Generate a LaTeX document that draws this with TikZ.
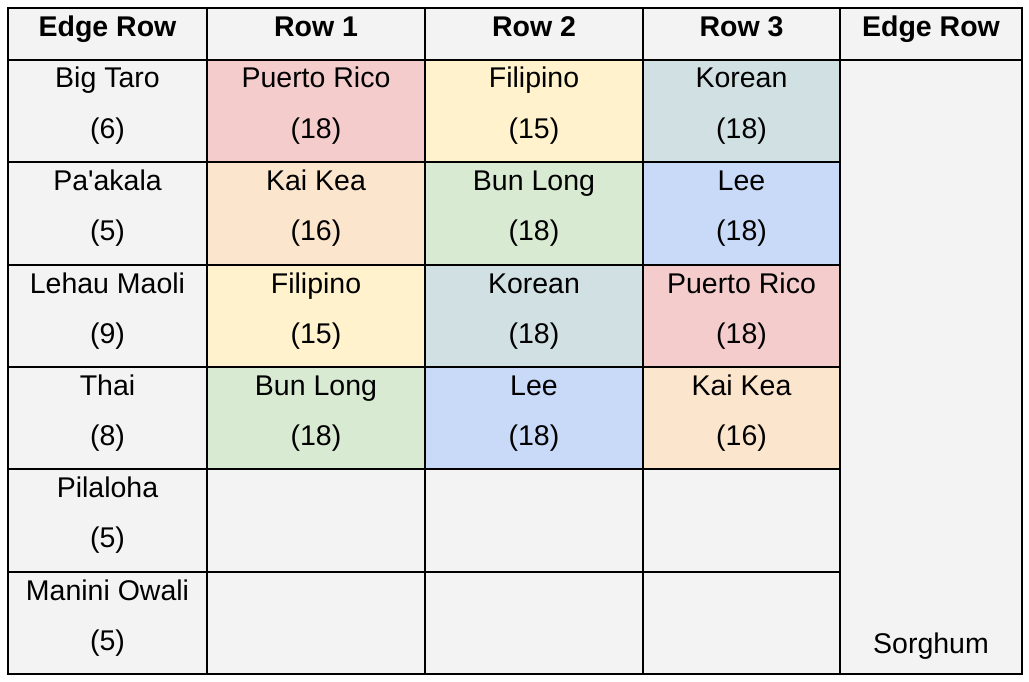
\documentclass[tikz,border=0pt]{standalone}
\usepackage{fontspec}
\newfontfamily\cellfont{Liberation Sans}
\definecolor{cellGray}{HTML}{F3F3F3}
\definecolor{cellRed}{HTML}{F4CCCC}
\definecolor{cellYellow}{HTML}{FFF2CC}
\definecolor{cellTeal}{HTML}{D0E0E3}
\definecolor{cellOrange}{HTML}{FCE5CD}
\definecolor{cellGreen}{HTML}{D9EAD3}
\definecolor{cellBlue}{HTML}{C9DAF8}
\begin{document}
\begin{tikzpicture}
[x=1pt,y=-1pt,%
  cellDecorate/.style={shape=rectangle,draw,line width=2pt,inner sep=0pt,anchor=north west},%
  textDecorate/.style={anchor=base,inner sep=0pt,font=\cellfont\fontsize{28.5}{28.5}\selectfont},%
  headDecorate/.style={textDecorate,font=\cellfont\fontsize{28.5}{28.5}\selectfont\bfseries}]
\useasboundingbox (0,0) rectangle (1029,682);
%% header cells
\foreach \name/\x/\w/\txt in {h1/7/199/Edge Row, h2/206/218/Row 1, h3/424/218/Row 2, h4/642/197/Row 3, h5/839/182/Edge Row}
{
  \node (\name) at (\x,7) [cellDecorate,fill=cellGray,minimum width=\w pt,minimum height=52pt] {};
  \node at ([yshift=-29.5pt]\name.north) [headDecorate] {\txt};
}
%% edge row on the left
\foreach \r/\top/\h/\txt/\num in {1/59/102/Big Taro/6, 2/161/103/Pa'akala/5, 3/264/102/Lehau Maoli/9, 4/366/102/Thai/8, 5/468/103/Pilaloha/5, 6/571/102/Manini Owali/5}
{
  \node (a\r) at (7,\top) [cellDecorate,fill=cellGray,minimum width=199pt,minimum height=\h pt] {};
  \node at ([yshift=-29pt]a\r.north) [textDecorate] {\txt};
  \node at ([yshift=-79.5pt]a\r.north) [textDecorate] {(\num)};
}
%% planted cells
\foreach \c/\r/\x/\w/\top/\h/\col/\txt/\num in {%
  b/1/206/218/59/102/cellRed/Puerto Rico/18, c/1/424/218/59/102/cellYellow/Filipino/15, d/1/642/197/59/102/cellTeal/Korean/18,%
  b/2/206/218/161/103/cellOrange/Kai Kea/16, c/2/424/218/161/103/cellGreen/Bun Long/18, d/2/642/197/161/103/cellBlue/Lee/18,%
  b/3/206/218/264/102/cellYellow/Filipino/15, c/3/424/218/264/102/cellTeal/Korean/18, d/3/642/197/264/102/cellRed/Puerto Rico/18,%
  b/4/206/218/366/102/cellGreen/Bun Long/18, c/4/424/218/366/102/cellBlue/Lee/18, d/4/642/197/366/102/cellOrange/Kai Kea/16}
{
  \node (\c\r) at (\x,\top) [cellDecorate,fill=\col,minimum width=\w pt,minimum height=\h pt] {};
  \node at ([yshift=-29pt]\c\r.north) [textDecorate] {\txt};
  \node at ([yshift=-79.5pt]\c\r.north) [textDecorate] {(\num)};
}
%% empty cells
\foreach \c/\r/\x/\w/\top/\h in {b/5/206/218/468/103, c/5/424/218/468/103, d/5/642/197/468/103,%
  b/6/206/218/571/102, c/6/424/218/571/102, d/6/642/197/571/102}
{
  \node (\c\r) at (\x,\top) [cellDecorate,fill=cellGray,minimum width=\w pt,minimum height=\h pt] {};
}
%% edge row on the right
\node (e1) at (839,59) [cellDecorate,fill=cellGray,minimum width=182pt,minimum height=614pt] {};
\node at ([yshift=22pt]e1.south) [textDecorate] {Sorghum};
\end{tikzpicture}
\end{document}
